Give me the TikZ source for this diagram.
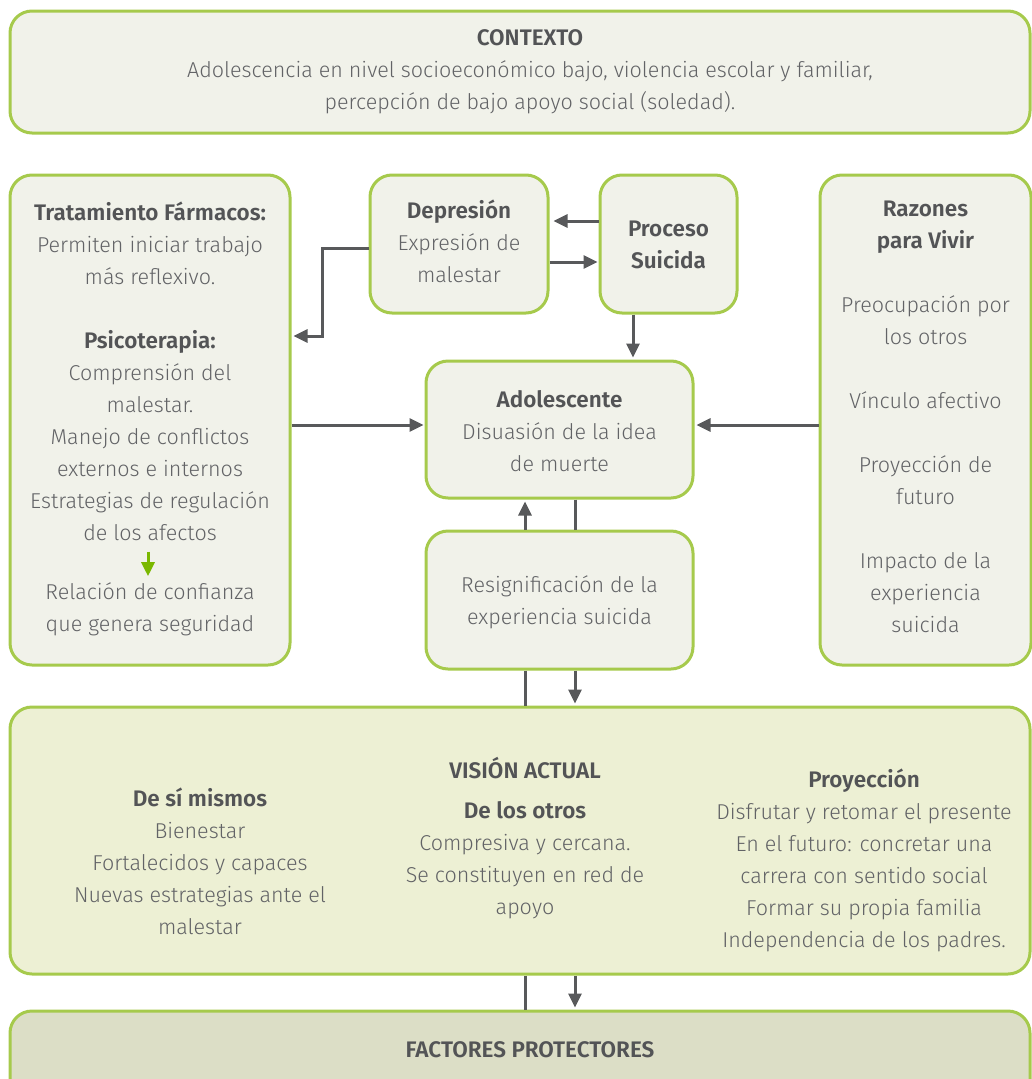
\documentclass[tikz,border=0pt]{standalone}
\usepackage{fontspec}
\setmainfont{Fira Sans Light}[BoldFont={Fira Sans SemiBold}]
\usetikzlibrary{arrows.meta}
\definecolor{gborder}{HTML}{A6CA4C}
\definecolor{boxfill}{HTML}{F1F2EA}
\definecolor{visfill}{HTML}{EDF0D4}
\definecolor{facfill}{HTML}{DCDEC6}
\definecolor{txt}{HTML}{626366}
\definecolor{hdc}{HTML}{535456}
\definecolor{arrc}{HTML}{58595B}
\definecolor{garrc}{HTML}{7AB800}
\newcommand\hb[1]{{\color{hdc}\fontsize{22.5}{32}\selectfont\bfseries #1}}
\tikzset{
  boxst/.style={draw=gborder, line width=3pt, fill=boxfill, rounded corners=22pt, inner sep=0pt, rectangle},
  txtst/.style={inner sep=0pt, align=center, text=txt, font=\fontsize{21.5}{32}\selectfont},
  conn/.style={draw=arrc, line width=3pt},
  arrowst/.style={conn, -{Triangle[length=14pt,width=13pt]}},
  garrow/.style={draw=garrc, line width=3pt, -{Triangle[length=14pt,width=13pt]}}
}
\begin{document}
\begin{tikzpicture}[x=1pt,y=-1pt]
\useasboundingbox (0,0) rectangle (1032,1079);
\clip (0,0) rectangle (1032,1079);
% boxes
\node[boxst, minimum width=1020pt, minimum height=122pt] (ctx) at (520,72) {};
\node[boxst, minimum width=280pt, minimum height=490pt] (left) at (150,420) {};
\node[boxst, minimum width=178pt, minimum height=138pt] (dep) at (459,244) {};
\node[boxst, minimum width=137pt, minimum height=138pt] (proc) at (668.5,244) {};
\node[boxst, minimum width=211pt, minimum height=490pt] (raz) at (925.5,420) {};
\node[boxst, minimum width=267pt, minimum height=137pt] (ado) at (559.5,429.5) {};
\node[boxst, minimum width=267pt, minimum height=138pt] (res) at (559.5,600) {};
\node[boxst, fill=visfill, minimum width=1020pt, minimum height=267pt] (vis) at (520,840.5) {};
\node[boxst, fill=facfill, minimum width=1020pt, minimum height=136pt] (fac) at (520,1079) {};
% texts
\node[txtst] (ctxt) at (530,72) {\hb{CONTEXTO}\\Adolescencia en nivel socioeconómico bajo, violencia escolar y familiar,\\percepción de bajo apoyo social (soledad).};
\node[txtst] (leftA) at (150,371) {\hb{Tratamiento Fármacos:}\\Permiten iniciar trabajo\\más reflexivo.\\[32pt]\hb{Psicoterapia:}\\Comprensión del\\malestar.\\Manejo de conflictos\\externos e internos\\Estrategias de regulación\\de los afectos};
\node[txtst] (leftB) at (150,609) {Relación de confianza\\que genera seguridad};
\node[txtst] (dept) at (459,241) {\hb{Depresión}\\Expresión de\\malestar};
\node[txtst] (proct) at (668.5,245) {\hb{Proceso}\\\hb{Suicida}};
\node[txtst] (razt) at (925.5,417) {\hb{Razones}\\\hb{para Vivir}\\[32pt]Preocupación por\\los otros\\[32pt]Vínculo afectivo\\[32pt]Proyección de\\futuro\\[32pt]Impacto de la\\experiencia\\suicida};
\node[txtst] (adot) at (559.5,431) {\hb{Adolescente}\\Disuasión de la idea\\de muerte};
\node[txtst] (rest) at (559.5,602) {Resignificación de la\\experiencia suicida};
\node[txtst] (vtitle) at (525,768) {\hb{VISIÓN ACTUAL}};
\node[txtst] (vleft) at (200,861) {\hb{De sí mismos}\\Bienestar\\Fortalecidos y capaces\\Nuevas estrategias ante el\\malestar};
\node[txtst] (vmid) at (525,860.5) {\hb{De los otros}\\Compresiva y cercana.\\Se constituyen en red de\\apoyo};
\node[txtst] (vright) at (864,860) {\hb{Proyección}\\Disfrutar y retomar el presente\\En el futuro: concretar una\\carrera con sentido social\\Formar su propia familia\\Independencia de los padres.};
\node[txtst] (fact) at (530,1050) {\hb{FACTORES PROTECTORES}};
% connectors
\draw[arrowst, shorten >=4pt] (proc.west |- 0,221) -- (dep.east |- 0,221);
\draw[arrowst, shorten >=1pt] (dep.east |- 0,262) -- (proc.west |- 0,262);
\draw[arrowst, shorten >=2pt] (dep.west |- 0,248) -- (322,248) -- (322,336) -- (left.east |- 0,336);
\draw[arrowst, shorten >=2pt] (proc.south -| 633,0) -- (ado.north -| 633,0);
\draw[arrowst, shorten >=1pt] (left.east |- 0,425) -- (ado.west |- 0,425);
\draw[arrowst, shorten >=2pt] (raz.west |- 0,425) -- (ado.east |- 0,425);
\draw[arrowst, shorten >=2pt] (res.north -| 525,0) -- (ado.south -| 525,0);
\draw[conn] (ado.south -| 575,0) -- (res.north -| 575,0);
\draw[conn] (res.south -| 525,0) -- (vis.north -| 525,0);
\draw[arrowst, shorten >=2pt] (res.south -| 575,0) -- (vis.north -| 575,0);
\draw[conn] (vis.south -| 525,0) -- (fac.north -| 525,0);
\draw[arrowst, shorten >=2pt] (vis.south -| 575,0) -- (fac.north -| 575,0);
\draw[garrow, shorten <=11pt, shorten >=6pt] (leftA.south -| 148,0) -- (leftB.north -| 148,0);
\end{tikzpicture}
\end{document}
